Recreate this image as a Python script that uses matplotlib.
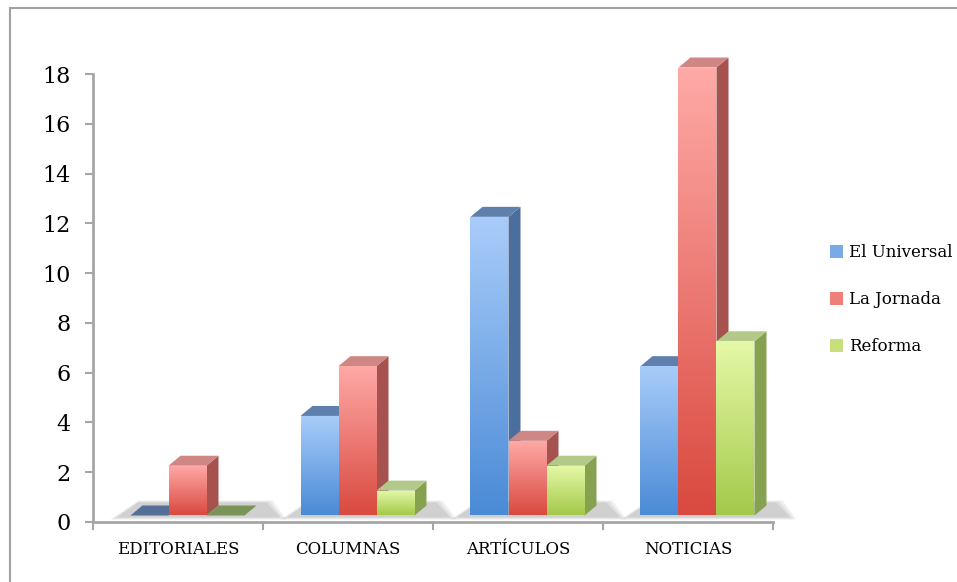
import matplotlib
matplotlib.use("Agg")
import matplotlib.pyplot as plt
import numpy as np
from matplotlib.colors import LinearSegmentedColormap
from matplotlib.patches import Polygon, Rectangle, Patch

categories = ["EDITORIALES", "COLUMNAS", "ARTÍCULOS", "NOTICIAS"]
series = ["El Universal", "La Jornada", "Reforma"]
el_universal = [0, 4, 12, 6]
la_jornada = [2, 6, 3, 18]
reforma = [0, 1, 2, 7]
values = [el_universal, la_jornada, reforma]

# front gradient (top, bottom), side, cap
front_top = ["#a9cdfa", "#ffaaa7", "#e6f9a8"]
front_bot = ["#4a8ad6", "#d9493f", "#a3c94a"]
side_col = ["#4a6f9e", "#a65350", "#86a150"]
cap_col = ["#5f80ad", "#cf8785", "#b2c98a"]
flat_col = ["#556f96", "#a65350", "#7a9458"]
legend_col = ["#7aaae6", "#ee7f79", "#c8e07a"]

plt.rcParams['font.family'] = ['DejaVu Serif']

fig = plt.figure(figsize=(9.57, 5.82), dpi=100)
W, H = 957, 582
ax = fig.add_axes([93 / W, 60 / H, 680 / W, 448 / H])
ax.set_xlim(-0.5, 3.5)
ax.set_ylim(0, 18)

# pixel -> data conversions
px_x = 4.0 / 680
px_y = 18.0 / 448
bw = 38 * px_x
off_x, off_y = 9.5 * px_x, 6.5 * px_y
dep_x, dep_y = 12 * px_x, 10 * px_y

grad = np.linspace(1, 0, 256).reshape(-1, 1)

for i in range(len(categories)):
    left0 = i - 1.5 * bw + off_x
    right0 = left0 + 3 * bw
    # floor shadow
    for a, grow in [(0.10, 6), (0.12, 3), (0.14, 0)]:
        ax.add_patch(Polygon([(left0 - (14 + grow) * px_x, off_y - (2 + grow / 3) * px_y),
                              (right0 + dep_x + (24 + grow) * px_x, off_y - (2 + grow / 3) * px_y),
                              (right0 + dep_x + (10 + grow) * px_x, off_y + dep_y + (3 + grow / 3) * px_y),
                              (left0 + dep_x - 4 * px_x, off_y + dep_y + (3 + grow / 3) * px_y)],
                             closed=True, facecolor="#707070", edgecolor="none", alpha=a,
                             zorder=1, clip_on=False))
    for s in range(len(series)):
        v = values[s][i]
        x0 = left0 + s * bw
        x1 = x0 + bw
        y0 = off_y
        y1 = off_y + v
        z = 2 + s * 0.1 + i
        # side
        ax.add_patch(Polygon([(x1, y0), (x1 + dep_x, y0 + dep_y), (x1 + dep_x, y1 + dep_y), (x1, y1)],
                             closed=True, facecolor=side_col[s], edgecolor="none", zorder=z,
                             clip_on=False))
        # cap
        ax.add_patch(Polygon([(x0, y1), (x0 + dep_x, y1 + dep_y), (x1 + dep_x, y1 + dep_y), (x1, y1)],
                             closed=True, facecolor=cap_col[s] if v > 0 else flat_col[s],
                             edgecolor="none", zorder=z, clip_on=False))
        # front with gradient
        if v > 0:
            cmap = LinearSegmentedColormap.from_list("c%d" % s, [front_bot[s], front_top[s]])
            im = ax.imshow(grad, cmap=cmap, extent=[x0, x1, y0, y1], aspect="auto",
                           zorder=z + 0.05, interpolation="bilinear", vmin=0, vmax=1)
            r = Rectangle((x0, y0), bw, v, transform=ax.transData, facecolor="none",
                          edgecolor="none", clip_on=False)
            ax.add_patch(r)
            im.set_clip_path(r)

ax.set_xlim(-0.5, 3.5)
ax.set_ylim(0, 18)

for sp in ["top", "right"]:
    ax.spines[sp].set_visible(False)
for sp in ["left", "bottom"]:
    ax.spines[sp].set_color("#a6a6a6")
    ax.spines[sp].set_linewidth(2)

ax.set_yticks(range(0, 19, 2))
ax.set_xticks(np.arange(-0.5, 3.6, 1))
ax.set_xticklabels([])
ax.set_xticks(range(len(categories)), minor=True)
ax.set_xticklabels(categories, minor=True, fontsize=12)
ax.tick_params(axis="x", which="minor", length=0, pad=14)
ax.tick_params(axis="x", which="major", length=6, width=1.5, color="#a6a6a6")
ax.tick_params(axis="y", length=6, width=1.5, color="#a6a6a6", labelsize=16, pad=10)

handles = [Patch(facecolor=c, edgecolor="none") for c in legend_col]
fig.legend(handles, series, loc="upper left", bbox_to_anchor=(822 / W, 1 - 236 / H),
           frameon=False, fontsize=12, handlelength=0.75, handleheight=0.75,
           handletextpad=0.35, labelspacing=1.8, borderpad=0)

# outer chart border
fig.add_artist(Rectangle((10 / W, -0.1), 1.2, 1.1 - 8 / H, transform=fig.transFigure,
                         fill=False, edgecolor="#a0a0a0", linewidth=1.5))

fig.savefig("out.png", dpi=100)
